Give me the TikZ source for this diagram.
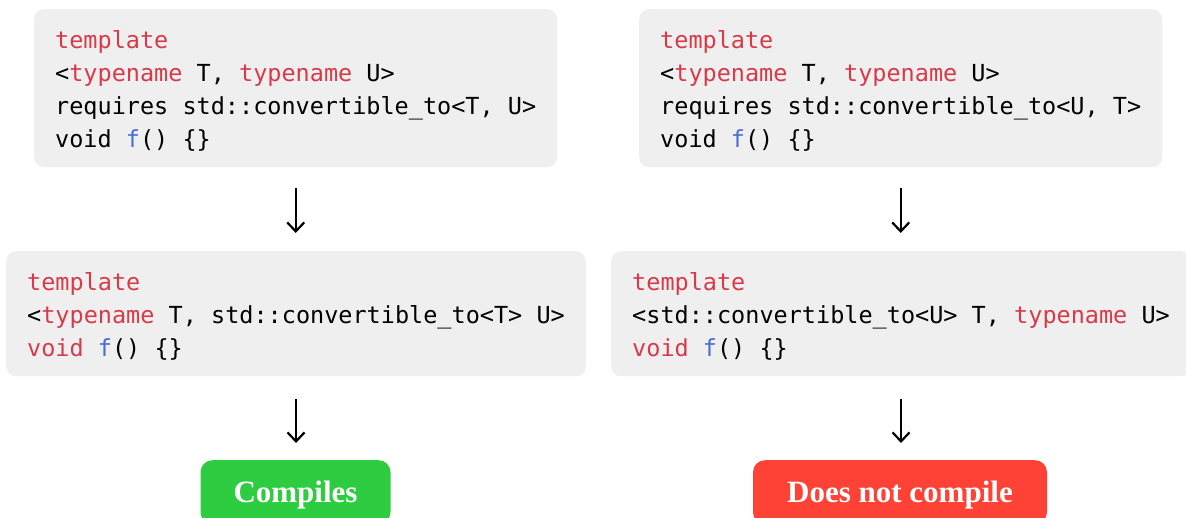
\documentclass[tikz,border=0pt]{standalone}
\usepackage{fontspec}
\usetikzlibrary{arrows.meta}
\newfontfamily\codefont{DejaVu Sans Mono}
\newfontfamily\labelfont{Liberation Serif}
\definecolor{boxgray}{HTML}{EFEFEF}
\definecolor{kwred}{HTML}{D73A49}
\definecolor{fnblue}{HTML}{476ED3}
\definecolor{okgreen}{HTML}{2ECC40}
\definecolor{badred}{HTML}{FF4136}
\newcommand\kw[1]{\textcolor{kwred}{#1}}
\newcommand\fn[1]{\textcolor{fnblue}{#1}}
\newcommand\codeln[1]{\hbox{\rule[-7pt]{0pt}{33pt}#1}}
\begin{document}
\begin{tikzpicture}[x=1pt,y=-1pt,
  codebox/.style={fill=boxgray, rounded corners=10pt, anchor=north west,
    inner xsep=21pt, inner ysep=13pt,
    font=\codefont\fontsize{23.5pt}{33pt}\selectfont},
  resultbox/.style={rounded corners=12pt, anchor=north, text=white,
    minimum height=64pt, inner xsep=32pt, text depth=0pt,
    font=\labelfont\bfseries\fontsize{31pt}{34pt}\selectfont},
  flow/.style={line width=2.2pt, -{Straight Barb[length=9pt,width=17pt]}}]
\useasboundingbox (0,0) rectangle (1186,518);
\clip (0,0) rectangle (1186,518);

\node[codebox] (b1) at (34,9) {\vbox{\offinterlineskip
  \codeln{\kw{template}}
  \codeln{<\kw{typename} T, \kw{typename} U>}
  \codeln{requires std::convertible\_to<T, U>}
  \codeln{void \fn{f}() \{\}}}};

\node[codebox] (b2) at (639,9) {\vbox{\offinterlineskip
  \codeln{\kw{template}}
  \codeln{<\kw{typename} T, \kw{typename} U>}
  \codeln{requires std::convertible\_to<U, T>}
  \codeln{void \fn{f}() \{\}}}};

\node[codebox] (b3) at (6,251) {\vbox{\offinterlineskip
  \codeln{\kw{template}}
  \codeln{<\kw{typename} T, std::convertible\_to<T> U>}
  \codeln{\kw{void} \fn{f}() \{\}}}};

\node[codebox] (b4) at (611,251) {\vbox{\offinterlineskip
  \codeln{\kw{template}}
  \codeln{<std::convertible\_to<U> T, \kw{typename} U>}
  \codeln{\kw{void} \fn{f}() \{\}}}};

\node[resultbox, fill=okgreen, minimum width=190pt] (ok) at (295.5,460) {Compiles};
\node[resultbox, fill=badred, minimum width=294pt] (bad) at (900,460) {Does not compile};

\draw[flow, shorten <=21pt, shorten >=18pt] (b1.south) -- (b1.south |- b3.north);
\draw[flow, shorten <=21pt, shorten >=18pt] (b2.south) -- (b2.south |- b4.north);
\draw[flow, shorten <=23pt, shorten >=17pt] (b3.south) -- (b3.south |- ok.north);
\draw[flow, shorten <=23pt, shorten >=17pt] (b4.south) -- (b4.south |- bad.north);
\end{tikzpicture}
\end{document}
